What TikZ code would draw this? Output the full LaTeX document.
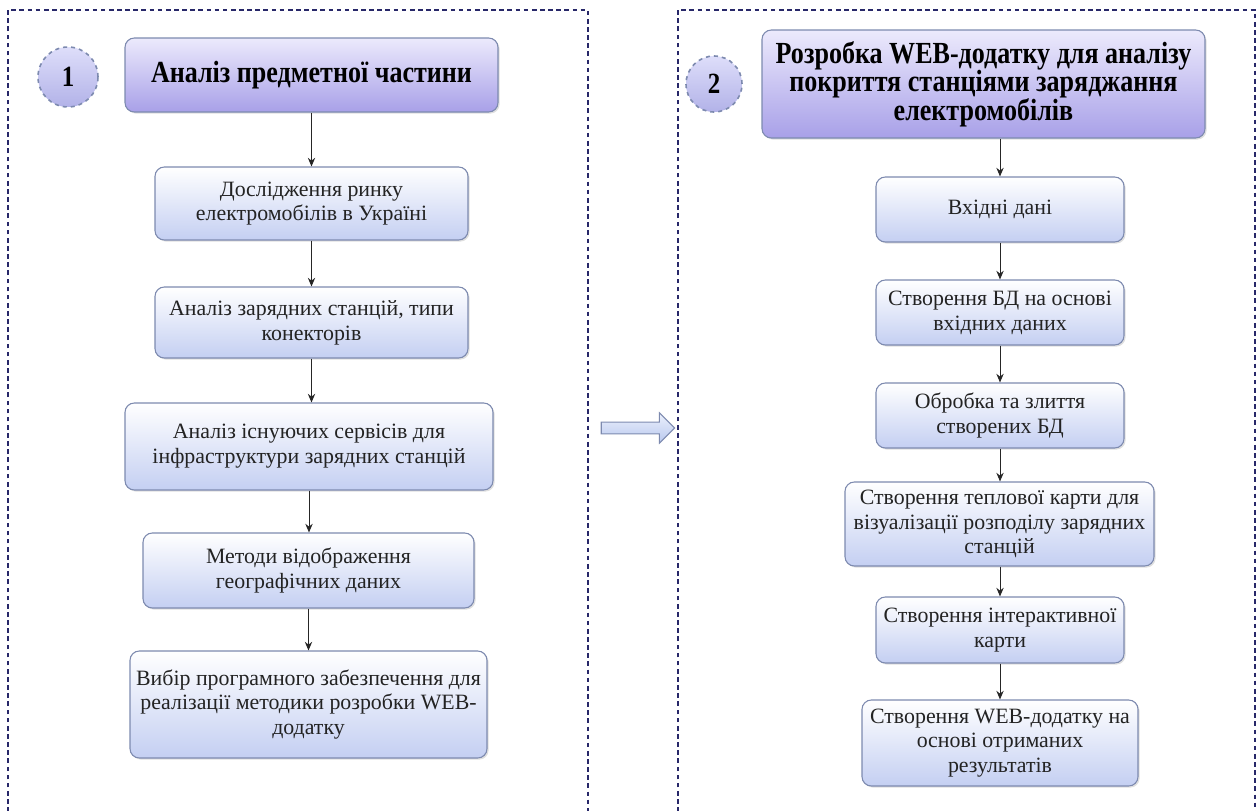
\documentclass[tikz,border=0pt]{standalone}
\usepackage{fontspec}
\setmainfont{Liberation Serif}
\newfontfamily\headfont[FakeStretch=0.85]{Liberation Serif}
\usetikzlibrary{arrows.meta,shapes.arrows,shadows}
\definecolor{frameblue}{RGB}{40,40,105}
\definecolor{boxedge}{RGB}{125,138,175}
\definecolor{boxlow}{RGB}{196,207,242}
\definecolor{headtop}{RGB}{236,234,252}
\definecolor{headlow}{RGB}{168,160,232}
\definecolor{circtop}{RGB}{222,222,250}
\definecolor{circlow}{RGB}{178,178,232}
\definecolor{arrtop}{RGB}{235,240,252}
\definecolor{arrlow}{RGB}{185,200,238}
\definecolor{inktext}{RGB}{35,35,35}

\tikzset{
  stepbox/.style={draw=boxedge, line width=0.8pt, rounded corners=7pt,
    top color=white, bottom color=boxlow, align=center, text=inktext,
    font=\fontsize{16.4}{18.6}\selectfont, inner sep=1pt,
    drop shadow={shadow xshift=1.2pt, shadow yshift=-1.2pt, opacity=0.25}},
  headbox/.style={stepbox, top color=headtop, bottom color=headlow,
    text=black, font=\headfont\bfseries\fontsize{23}{21.4}\selectfont},
  numball/.style={circle, draw=boxedge, dashed, line width=1.2pt,
    top color=circtop, bottom color=circlow, inner sep=0pt,
    font=\headfont\bfseries\fontsize{22}{22}\selectfont},
  flow/.style={-{Stealth[length=6.5pt,width=5.5pt]}, line width=0.75pt, draw=black!85},
  frame/.style={draw=frameblue, line width=1.3pt, dash pattern=on 3.5pt off 2.6pt}
}

\begin{document}
\begin{tikzpicture}[x=0.75pt, y=-0.75pt]
  \useasboundingbox (0,0) rectangle (1259,810);

  % outer frames
  \draw[frame] (8,820) |- (588,10) -- (588,820);
  \draw[frame] (678,820) |- (1255,10) -- (1255,820);

  % left part
  \node[numball, minimum size=45pt] (c1) at (68,77) {1};
  \node[headbox, minimum width=279.75pt, minimum height=55.5pt] (h1) at (311.5,75)
    {Аналіз предметної частини};
  \node[stepbox, minimum width=234.75pt, minimum height=54.75pt] (l1) at (311.5,203.5)
    {Дослідження ринку\\електромобілів в Україні};
  \node[stepbox, minimum width=234.75pt, minimum height=53.25pt] (l2) at (311.5,322.5)
    {Аналіз зарядних станцій, типи\\конекторів};
  \node[stepbox, minimum width=276pt, minimum height=65.25pt] (l3) at (309,446.5)
    {Аналіз існуючих сервісів для\\інфраструктури зарядних станцій};
  \node[stepbox, minimum width=248.25pt, minimum height=56.25pt] (l4) at (308.5,570.5)
    {Методи відображення\\географічних даних};
  \node[stepbox, minimum width=267.75pt, minimum height=80.25pt] (l5) at (308.5,704.5)
    {Вибір програмного забезпечення для\\реалізації методики розробки WEB-\\додатку};

  \draw[flow] (h1.south) -- (h1.south |- l1.north);
  \draw[flow] (l1.south) -- (l1.south |- l2.north);
  \draw[flow] (l2.south) -- (l2.south |- l3.north);
  \draw[flow] (l3.south) -- (l3.south |- l4.north);
  \draw[flow] (l4.south) -- (l4.south |- l5.north);

  % middle arrow
  \node[single arrow, draw=boxedge, line width=0.8pt, top color=arrtop, bottom color=arrlow,
    minimum height=55pt, inner sep=4pt, single arrow head extend=7pt] (go) at (635,428) {};

  % right part
  \node[numball, minimum size=42pt] (c2) at (714,84) {2};
  \node[headbox, minimum width=332.25pt, minimum height=81pt] (h2) at (983.5,84)
    {Розробка WEB-додатку для аналізу\\покриття станціями заряджання\\електромобілів};
  \node[stepbox, minimum width=186pt, minimum height=48.75pt] (r1) at (1000,209.5)
    {Вхідні дані};
  \node[stepbox, minimum width=186pt, minimum height=48.75pt] (r2) at (1000,312.5)
    {Створення БД на основі\\вхідних даних};
  \node[stepbox, minimum width=186pt, minimum height=48.75pt] (r3) at (1000,415.5)
    {Обробка та злиття\\створених БД};
  \node[stepbox, minimum width=231.75pt, minimum height=63pt] (r4) at (999.5,524)
    {Створення теплової карти для\\візуалізації розподілу зарядних\\станцій};
  \node[stepbox, minimum width=186pt, minimum height=49.5pt] (r5) at (1000,630)
    {Створення інтерактивної\\карти};
  \node[stepbox, minimum width=207pt, minimum height=64.5pt] (r6) at (1000,743)
    {Створення WEB-додатку на\\основі отриманих\\результатів};

  \draw[flow] (h2.south -| r1.north) -- (r1.north);
  \draw[flow] (r1.south) -- (r2.north);
  \draw[flow] (r2.south) -- (r3.north);
  \draw[flow] (r3.south) -- (r3.south |- r4.north);
  \draw[flow] (r4.south -| r5.north) -- (r5.north);
  \draw[flow] (r5.south) -- (r6.north);
\end{tikzpicture}
\end{document}
